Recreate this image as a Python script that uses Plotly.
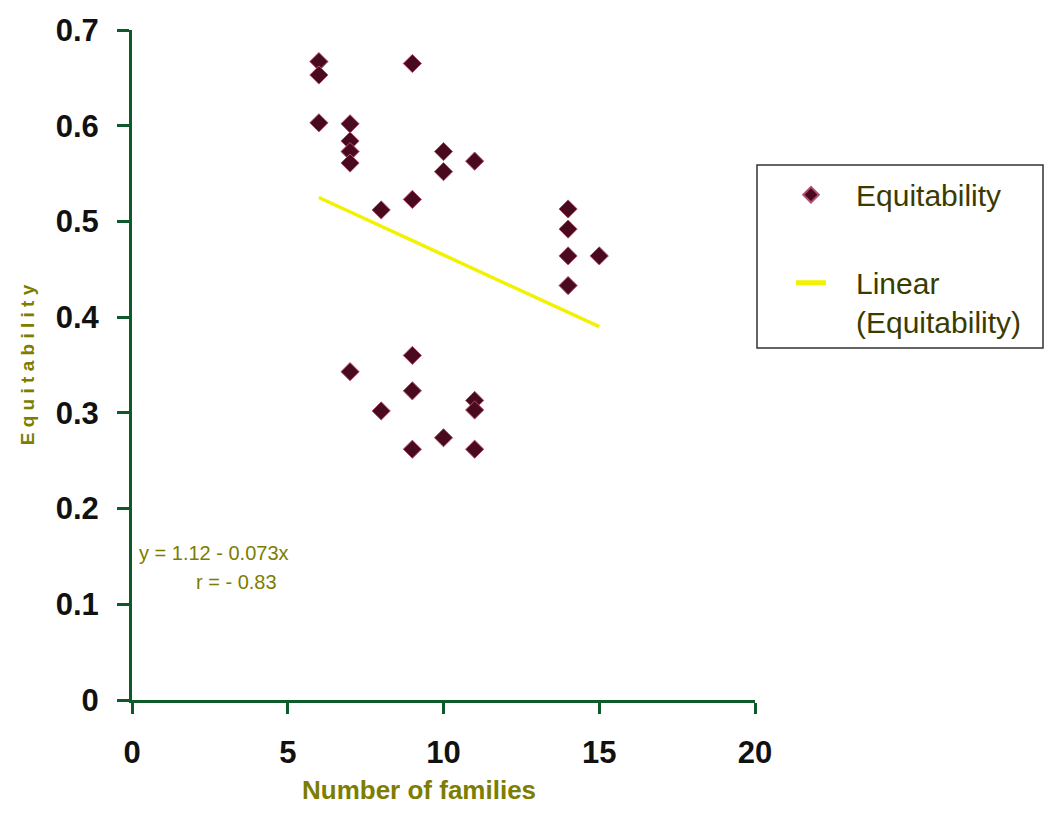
import plotly.graph_objects as go

# Data
families = [6, 6, 6, 7, 7, 7, 7, 7, 8, 8, 9, 9, 9, 9, 9, 10, 10, 10, 11, 11, 11, 11, 14, 14, 14, 14, 15]
equitability = [0.667, 0.653, 0.603, 0.602, 0.584, 0.573, 0.561, 0.343, 0.512, 0.302,
                0.665, 0.523, 0.36, 0.323, 0.262, 0.573, 0.552, 0.274,
                0.563, 0.313, 0.303, 0.262, 0.513, 0.492, 0.464, 0.433, 0.464]
trend_x = [6, 15]
trend_y = [0.525, 0.39]
x_ticks = [0, 5, 10, 15, 20]
y_ticks = [0, 0.1, 0.2, 0.3, 0.4, 0.5, 0.6, 0.7]
y_tick_text = ["0", "0.1", "0.2", "0.3", "0.4", "0.5", "0.6", "0.7"]

axis_green = "#0f5a2a"
olive = "#7d7d00"
NB = "\u00a0"

fig = go.Figure()
fig.add_trace(go.Scatter(
    x=families, y=equitability, mode="markers", name=NB * 3 + "Equitability",
    legendgroup="a",
    marker=dict(symbol="diamond", size=14, color="#4a0a1e",
                line=dict(color="#b05070", width=1)),
))
fig.add_trace(go.Scatter(
    x=trend_x, y=trend_y, mode="lines", name=NB * 3 + "Linear<br>" + NB * 3 + "(Equitability)",
    legendgroup="b",
    line=dict(color="#f2f200", width=3.5),
))

eq_font = dict(family="Liberation Sans, Arial", size=20, color=olive)
fig.add_annotation(x=0.15, y=0.154, xref="x", yref="y", xanchor="left", yanchor="middle",
                   text="y = 1.12 - 0.073x", showarrow=False, font=eq_font)
fig.add_annotation(x=3.37, y=0.123, xref="x", yref="y", xanchor="center", yanchor="middle",
                   text="r = - 0.83", showarrow=False, font=eq_font)

# x axis title (placed slightly left of centre, as in the reference)
fig.add_annotation(x=(419 - 132) / 623, y=-(790 - 700) / 670, xref="paper", yref="paper",
                   xanchor="center", yanchor="middle", text="Number of families", showarrow=False,
                   font=dict(family="Liberation Sans, Arial", size=26, color=olive, weight="bold"))

# legend frame
fig.add_shape(type="rect", xref="paper", yref="paper",
              x0=1.0032, x1=1.4623, y0=0.5254, y1=0.7985,
              line=dict(color="#333333", width=1.5), fillcolor="rgba(0,0,0,0)")

fig.update_layout(
    width=1050, height=814,
    margin=dict(l=132, r=295, t=30, b=114),
    paper_bgcolor="white", plot_bgcolor="white",
    font=dict(family="Liberation Sans, Arial", color="#111111"),
    showlegend=True,
    legend=dict(
        x=(791 - 132) / 623, y=0.793, xanchor="left", yanchor="top",
        borderwidth=0, bgcolor="rgba(0,0,0,0)",
        font=dict(family="Liberation Sans, Arial", size=30, color="#3b3b00"),
        itemsizing="constant", tracegroupgap=46, valign="top",
    ),
)
fig.update_xaxes(
    range=[0, 20], tickvals=x_ticks, ticktext=[str(v) for v in x_ticks],
    showgrid=False, zeroline=False, showline=True, linecolor=axis_green, linewidth=3,
    ticks="outside", ticklen=11, tickwidth=3, tickcolor=axis_green,
    ticklabelstandoff=12,
    tickfont=dict(family="Liberation Sans, Arial", size=31, color="#111111", weight="bold"),
)
fig.update_yaxes(
    range=[0, 0.7], tickvals=y_ticks, ticktext=y_tick_text,
    showgrid=False, zeroline=False, showline=True, linecolor=axis_green, linewidth=3,
    ticks="outside", ticklen=12, tickwidth=3, tickcolor=axis_green,
    ticklabelstandoff=12,
    tickfont=dict(family="Liberation Sans, Arial", size=31, color="#111111", weight="bold"),
    title=dict(text="E q u i t a b i l i t y", standoff=17,
               font=dict(family="Liberation Sans, Arial", size=19, color=olive, weight="bold")),
)

fig.write_html("out.html")
